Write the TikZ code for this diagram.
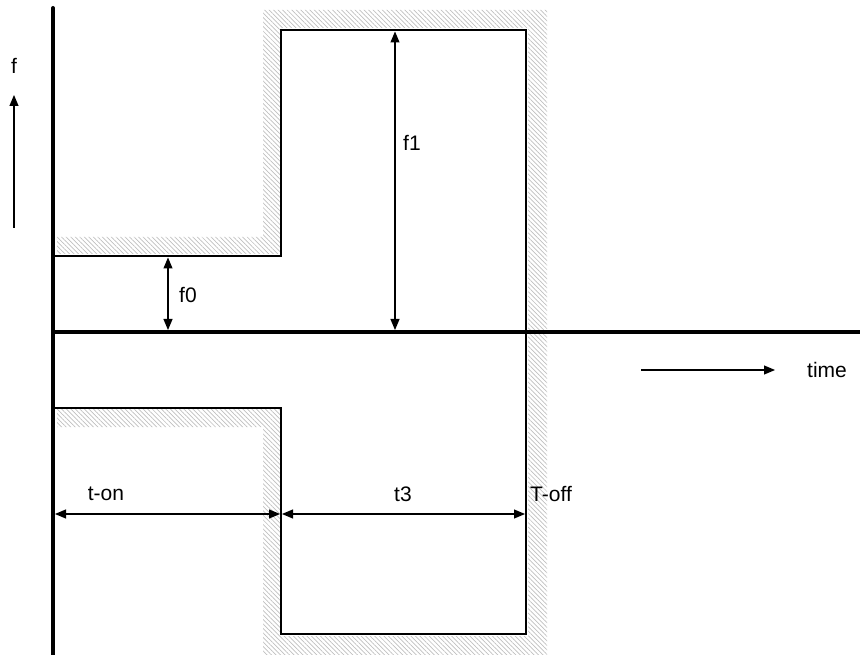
\documentclass[tikz,border=0pt]{standalone}
\usepackage{fontspec}
\setmainfont{Liberation Sans}
\usetikzlibrary{arrows.meta,patterns.meta}
\begin{document}
\begin{tikzpicture}[x=1pt,y=-1pt,
  axisline/.style={line width=4pt},
  pulse/.style={line width=2.4pt},
  dim/.style={line width=1.1pt,{Triangle[length=11pt,width=9pt]}-{Triangle[length=11pt,width=9pt]}},
  fwd/.style={line width=1.1pt,-{Triangle[length=11pt,width=9pt]}},
  hatch/.style={pattern={Lines[angle=-45,distance=3.2pt,line width=0.7pt]},pattern color=gray!50},
  lbl/.style={font=\fontsize{21}{25}\selectfont,inner sep=0pt}]
\useasboundingbox (0,0) rectangle (860,655);
% hatched border
\fill[hatch] (57,237) -- (263,237) -- (263,10) -- (547,10) -- (547,655) -- (263,655) -- (263,427) -- (57,427) -- (57,409) -- (280,409) -- (280,636) -- (528,636) -- (528,28) -- (280,28) -- (280,254) -- (57,254) -- cycle;
% coordinates
\coordinate (a1) at (55,256);
\coordinate (a2) at (281,256);
\coordinate (a3) at (281,30);
\coordinate (a4) at (526,30);
\coordinate (a5) at (526,634);
\coordinate (a6) at (281,634);
\coordinate (a7) at (281,408);
\coordinate (a8) at (55,408);
% pulse outline
\draw[pulse] (a1) -- (a2) -- (a3) -- (a4) -- (a5) -- (a6) -- (a7) -- (a8);
% axes
\coordinate (vtop) at (53,8);
\coordinate (vbot) at (53,655);
\coordinate (hl) at (53,332);
\coordinate (hr) at (860,332);
\draw[axisline,line cap=round] (vtop) -- (vbot);
\draw[axisline] (hl) -- (hr);
% f arrow
\coordinate (fb) at (14,228);
\coordinate (ft) at (14,95);
\draw[fwd] (fb) -- (ft);
\node[lbl] (flab) at (14,66) {f};
% f0
\coordinate (f0t) at (168,257.5);
\coordinate (f0b) at (168,330);
\draw[dim] (f0t) -- (f0b);
\node[lbl] (f0lab) at (188,295) {f0};
% f1
\coordinate (f1t) at (395,31.5);
\coordinate (f1b) at (395,330);
\draw[dim] (f1t) -- (f1b);
\node[lbl] (f1lab) at (412,143) {f1};
% time
\coordinate (ts) at (641,370);
\coordinate (te) at (775,370);
\draw[fwd] (ts) -- (te);
\node[lbl,anchor=west] (timelab) at (807,370) {time};
% t-on, t3
\coordinate (d1) at (55,514);
\coordinate (d2) at (280,514);
\coordinate (d3) at (282,514);
\coordinate (d4) at (525,514);
\draw[dim] (d1) -- (d2);
\draw[dim] (d3) -- (d4);
\node[lbl] (tonlab) at (106,494) {t-on};
\node[lbl] (t3lab) at (403,494) {t3};
\node[lbl,anchor=west] (tofflab) at (530,494) {T-off};
\end{tikzpicture}
\end{document}
